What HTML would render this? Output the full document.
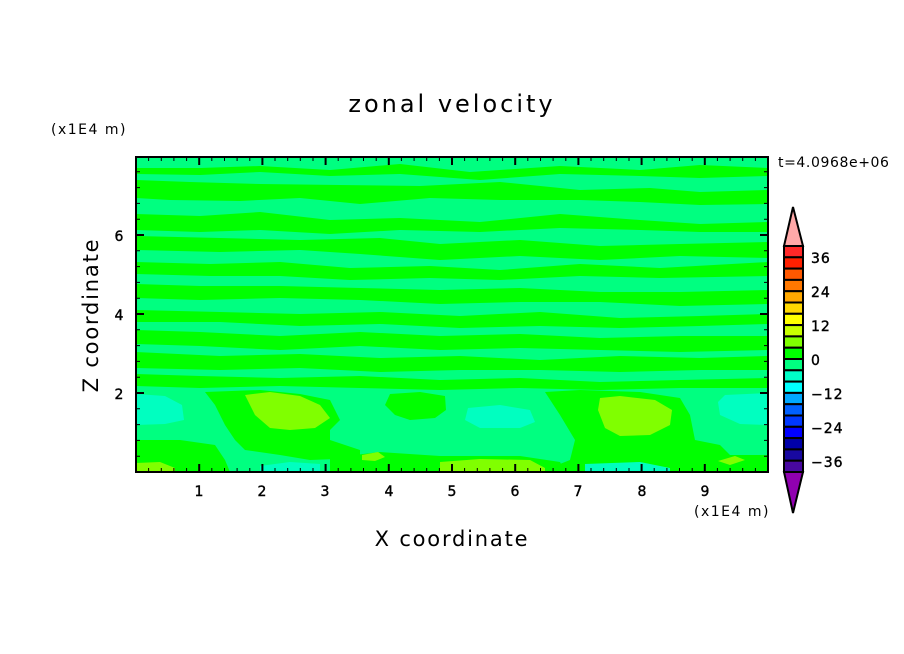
<!DOCTYPE html>
<html><head><style>
body{margin:0;background:#fff;}
svg{display:block;font-family:"DejaVu Sans","Liberation Sans",sans-serif;}
</style></head><body>
<svg width="904" height="654" viewBox="0 0 904 654" xmlns="http://www.w3.org/2000/svg">
<defs><clipPath id="c"><rect x="136" y="157" width="632" height="315"/></clipPath></defs>
<g clip-path="url(#c)">
<rect x="136" y="157" width="632" height="315" fill="#00ff80"/>
<g fill="#00ff00">
<path d="M136 168 L200 168 L260 166 L330 170 L400 164 L470 172 L560 166 L640 170 L700 165 L768 168 L768 176 L700 178 L640 176 L560 174 L480 180 L400 174 L330 176 L260 172 L200 175 L136 174Z"/>
<path d="M136 180 L190 182 L260 184 L340 185 L420 186 L500 182 L580 190 L650 188 L700 192 L768 190 L768 204 L700 205 L640 202 L580 200 L500 200 L430 198 L360 204 L300 198 L240 201 L170 200 L136 198Z"/>
<path d="M136 214 L200 216 L260 212 L330 220 L400 218 L480 222 L560 214 L640 220 L700 224 L768 222 L768 232 L700 232 L640 230 L560 228 L480 232 L400 230 L330 234 L260 230 L200 232 L136 230Z"/>
<path d="M136 236 L220 238 L300 240 L380 238 L440 244 L520 240 L600 246 L680 244 L768 242 L768 258 L680 256 L600 260 L520 256 L440 260 L360 254 L300 250 L220 252 L136 250Z"/>
<path d="M136 262 L210 264 L280 262 L350 268 L430 266 L500 270 L580 264 L660 268 L768 262 L768 276 L660 278 L580 276 L500 280 L430 278 L350 280 L280 276 L210 276 L136 274Z"/>
<path d="M136 284 L200 286 L280 286 L360 288 L440 290 L520 288 L600 292 L680 292 L768 290 L768 304 L680 306 L600 302 L520 302 L440 304 L360 300 L280 298 L200 300 L136 298Z"/>
<path d="M136 310 L220 312 L300 314 L380 312 L460 316 L540 312 L620 318 L700 316 L768 314 L768 324 L700 326 L620 328 L540 326 L460 328 L380 324 L300 326 L220 322 L136 322Z"/>
<path d="M136 330 L200 332 L280 336 L360 332 L440 336 L520 334 L600 338 L680 336 L768 336 L768 350 L680 352 L600 350 L520 348 L440 350 L360 346 L280 350 L200 346 L136 344Z"/>
<path d="M136 352 L220 356 L300 354 L380 358 L460 356 L540 360 L620 356 L700 358 L768 356 L768 370 L700 370 L620 372 L540 370 L460 370 L380 372 L300 368 L220 370 L136 368Z"/>
<path d="M136 374 L200 376 L280 378 L360 376 L440 380 L520 378 L600 382 L680 380 L768 378 L768 388 L680 388 L600 390 L520 388 L440 390 L360 388 L280 386 L200 388 L136 386Z"/>
<path d="M205 392 L260 390 L300 394 L330 400 L340 420 L330 430 L330 440 L360 450 L360 458 L310 460 L280 455 L245 450 L235 440 L225 425 L215 405Z"/>
<path d="M390 394 L420 392 L445 396 L446 410 L435 418 L410 420 L395 415 L385 405Z"/>
<path d="M545 392 L580 390 L640 392 L680 398 L690 415 L695 440 L720 445 L730 455 L768 455 L768 472 L540 472 L570 460 L575 440 L560 415Z"/>
<path d="M136 440 L180 440 L215 445 L225 460 L230 472 L136 472Z"/>
<path d="M330 458 L380 452 L440 456 L520 456 L560 462 L565 472 L330 472Z"/>
</g>
<g fill="#80ff00">
<path d="M245 395 L270 392 L300 396 L320 405 L330 418 L315 428 L290 430 L270 428 L255 415Z"/>
<path d="M600 398 L620 396 L655 400 L672 410 L670 425 L650 435 L620 436 L605 428 L598 410Z"/>
<path d="M440 462 L480 459 L530 460 L545 468 L545 472 L440 472Z"/>
<path d="M136 463 L160 462 L175 468 L175 472 L136 472Z"/>
<path d="M362 455 L378 452 L385 457 L375 461 L362 460Z"/>
<path d="M718 461 L735 456 L745 460 L730 465Z"/>
</g>
<g fill="#00ffc0">
<path d="M136 394 L165 396 L182 405 L184 420 L165 424 L136 425Z"/>
<path d="M468 408 L500 405 L530 410 L535 422 L520 428 L480 428 L465 420Z"/>
<path d="M725 395 L768 393 L768 425 L740 424 L720 415 L718 402Z"/>
<path d="M260 466 L290 462 L320 464 L320 472 L260 472Z"/>
<path d="M585 464 L640 462 L670 468 L670 472 L585 472Z"/>
</g>
</g>
<rect x="136" y="157" width="632" height="315" fill="none" stroke="#000" stroke-width="2"/>
<g stroke="#000" stroke-width="2">
<path d="M199.2 157v8M262.4 157v8M325.6 157v8M388.8 157v8M452 157v8M515.2 157v8M578.4 157v8M641.6 157v8M704.8 157v8
M199.2 472v-8M262.4 472v-8M325.6 472v-8M388.8 472v-8M452 472v-8M515.2 472v-8M578.4 472v-8M641.6 472v-8M704.8 472v-8
M136 393h8M136 314h8M136 235h8M768 393h-8M768 314h-8M768 235h-8"/>
</g>
<g stroke="#000" stroke-width="1">
<path d="M148.6 157v4M161.3 157v4M173.9 157v4M186.6 157v4M211.8 157v4M224.5 157v4M237.1 157v4M249.8 157v4M275 157v4M287.7 157v4M300.3 157v4M313 157v4M338.2 157v4M350.9 157v4M363.5 157v4M376.2 157v4M401.4 157v4M414.1 157v4M426.7 157v4M439.4 157v4M464.6 157v4M477.3 157v4M489.9 157v4M502.6 157v4M527.8 157v4M540.5 157v4M553.1 157v4M565.8 157v4M591 157v4M603.7 157v4M616.3 157v4M629 157v4M654.2 157v4M666.9 157v4M679.5 157v4M692.2 157v4M717.4 157v4M730.1 157v4M742.7 157v4M755.4 157v4"/>
<path d="M148.6 472v-4M161.3 472v-4M173.9 472v-4M186.6 472v-4M211.8 472v-4M224.5 472v-4M237.1 472v-4M249.8 472v-4M275 472v-4M287.7 472v-4M300.3 472v-4M313 472v-4M338.2 472v-4M350.9 472v-4M363.5 472v-4M376.2 472v-4M401.4 472v-4M414.1 472v-4M426.7 472v-4M439.4 472v-4M464.6 472v-4M477.3 472v-4M489.9 472v-4M502.6 472v-4M527.8 472v-4M540.5 472v-4M553.1 472v-4M565.8 472v-4M591 472v-4M603.7 472v-4M616.3 472v-4M629 472v-4M654.2 472v-4M666.9 472v-4M679.5 472v-4M692.2 472v-4M717.4 472v-4M730.1 472v-4M742.7 472v-4M755.4 472v-4"/>
<path d="M136 456.2h4M136 440.4h4M136 424.6h4M136 408.8h4M136 377.2h4M136 361.4h4M136 345.6h4M136 329.8h4M136 298.2h4M136 282.4h4M136 266.6h4M136 250.8h4M136 219.2h4M136 203.4h4M136 187.6h4M136 171.8h4
M768 456.2h-4M768 440.4h-4M768 424.6h-4M768 408.8h-4M768 377.2h-4M768 361.4h-4M768 345.6h-4M768 329.8h-4M768 298.2h-4M768 282.4h-4M768 266.6h-4M768 250.8h-4M768 219.2h-4M768 203.4h-4M768 187.6h-4M768 171.8h-4"/>
</g>
<g font-size="14" fill="#000" text-anchor="middle" stroke="#000" stroke-width="0.4">
<text x="199" y="496">1</text><text x="262" y="496">2</text><text x="325" y="496">3</text><text x="389" y="496">4</text><text x="452" y="496">5</text><text x="515" y="496">6</text><text x="578" y="496">7</text><text x="642" y="496">8</text><text x="705" y="496">9</text>
<text x="119" y="399">2</text><text x="119" y="320">4</text><text x="119" y="241">6</text>
</g>
<text x="732" y="516" font-size="14" letter-spacing="1.5" text-anchor="middle">(x1E4 m)</text>
<text x="89" y="134" font-size="14" letter-spacing="1.5" text-anchor="middle">(x1E4 m)</text>
<text x="452" y="546" font-size="21" letter-spacing="1.8" text-anchor="middle">X coordinate</text>
<text transform="translate(98 315) rotate(-90)" font-size="21" letter-spacing="1.8" text-anchor="middle">Z coordinate</text>
<text x="452" y="112" font-size="24" letter-spacing="3" text-anchor="middle">zonal velocity</text>
<text x="778" y="167" font-size="14" letter-spacing="0.6">t=4.0968e+06</text>
<g stroke="#000" stroke-width="2">
<path d="M793 207 L803 246 L784 246Z" fill="#ffa8a8"/>
<path d="M784 472 L803 472 L793 513Z" fill="#9000b0"/>
<rect x="784" y="246.0" width="19" height="11.3" fill="#ff2828"/>
<rect x="784" y="257.3" width="19" height="11.3" fill="#ff2000"/>
<rect x="784" y="268.6" width="19" height="11.3" fill="#ff5800"/>
<rect x="784" y="279.9" width="19" height="11.3" fill="#ff7800"/>
<rect x="784" y="291.2" width="19" height="11.3" fill="#ffa800"/>
<rect x="784" y="302.5" width="19" height="11.3" fill="#ffd800"/>
<rect x="784" y="313.8" width="19" height="11.3" fill="#ffff00"/>
<rect x="784" y="325.1" width="19" height="11.3" fill="#c8ff00"/>
<rect x="784" y="336.4" width="19" height="11.3" fill="#80ff00"/>
<rect x="784" y="347.7" width="19" height="11.3" fill="#00ff00"/>
<rect x="784" y="359.0" width="19" height="11.3" fill="#00ff80"/>
<rect x="784" y="370.3" width="19" height="11.3" fill="#00ffc8"/>
<rect x="784" y="381.6" width="19" height="11.3" fill="#00ffff"/>
<rect x="784" y="392.9" width="19" height="11.3" fill="#00a8ff"/>
<rect x="784" y="404.2" width="19" height="11.3" fill="#0060ff"/>
<rect x="784" y="415.5" width="19" height="11.3" fill="#0038ff"/>
<rect x="784" y="426.8" width="19" height="11.3" fill="#0000ff"/>
<rect x="784" y="438.1" width="19" height="11.3" fill="#0000a8"/>
<rect x="784" y="449.4" width="19" height="11.3" fill="#1808a0"/>
<rect x="784" y="460.7" width="19" height="11.3" fill="#4808a0"/>
</g>
<g font-size="14" fill="#000" stroke="#000" stroke-width="0.4" letter-spacing="1">
<text x="811" y="263">36</text><text x="811" y="297">24</text><text x="811" y="331">12</text><text x="811" y="365">0</text>
<text x="811" y="399">−12</text><text x="811" y="433">−24</text><text x="811" y="467">−36</text>
</g>
</svg>
</body></html>
